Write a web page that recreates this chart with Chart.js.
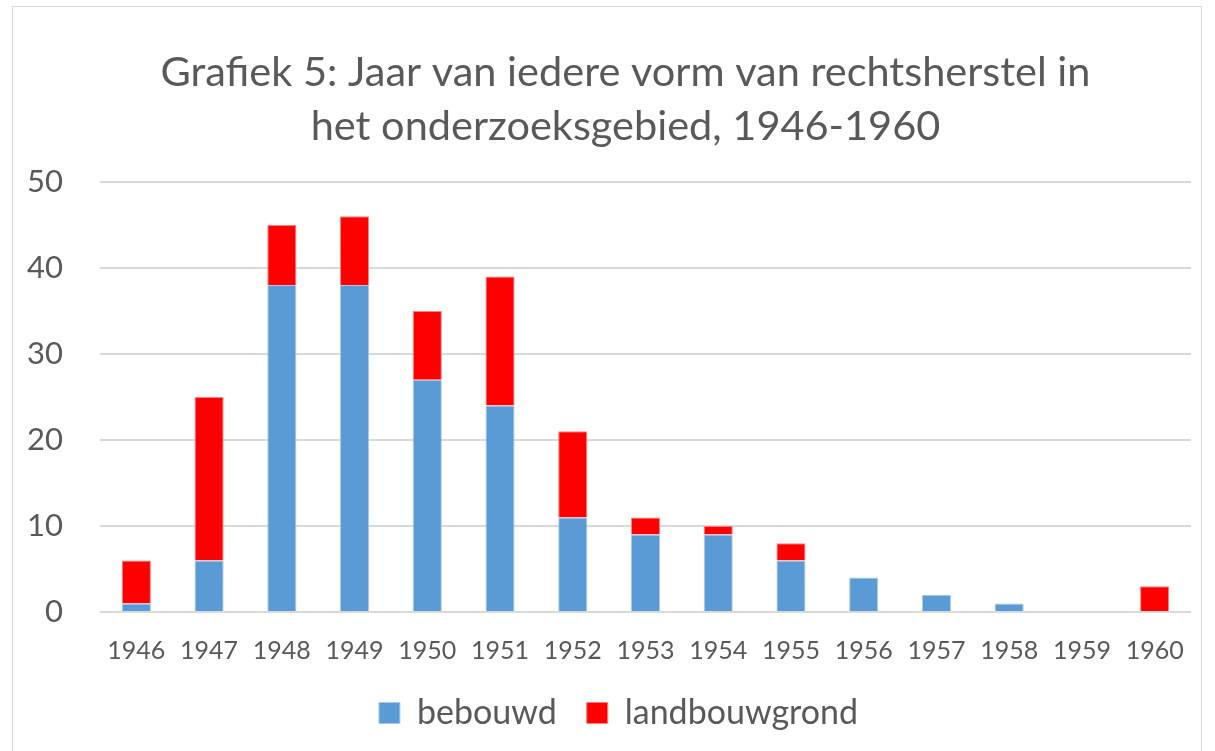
<!DOCTYPE html>
<html>
<head>
<meta charset="utf-8">
<script src="https://cdn.jsdelivr.net/npm/chart.js@4"></script>
<style>
  html, body { margin: 0; padding: 0; background: #fff; overflow: hidden; }
  #wrap { position: absolute; left: 12px; top: 6px; width: 1190px; height: 760px; border: 1px solid #d9d9d9; box-sizing: border-box; }
  #box { position: absolute; left: 0; top: 0; width: 1215px; height: 751px; }
</style>
</head>
<body>
<div id="wrap"></div>
<div id="box"><canvas id="chart" width="1215" height="751"></canvas></div>
<script>
// ── Data ───────────────────────────────────────────────
const years = ['1946', '1947', '1948', '1949', '1950', '1951', '1952', '1953', '1954', '1955', '1956', '1957', '1958', '1959', '1960'];
const bebouwd = [1, 6, 38, 38, 27, 24, 11, 9, 9, 6, 4, 2, 1, 0, 0];
const landbouwgrond = [5, 19, 7, 8, 8, 15, 10, 2, 1, 2, 0, 0, 0, 0, 3];
const yTicks = [0, 10, 20, 30, 40, 50];

const titleLines = ['Grafiek 5: Jaar van iedere vorm van rechtsherstel in', 'het onderzoeksgebied, 1946-1960'];
const FONT = 'Lato, "Open Sans", sans-serif';
const GREY = '#595959';

// nudge title / legend boxes after layout (Excel-style placement)
const nudge = {
  id: 'nudge',
  afterLayout(chart) {
    const t = chart.titleBlock;
    if (t) { t.left += 17; t.right += 17; }
    const l = chart.legend;
    if (l) { l.left += 10; l.right += 10; l.top -= 16; l.bottom -= 16; }
  },
};

// ── Chart ──────────────────────────────────────────────
new Chart(document.getElementById('chart'), {
  type: 'bar',
  data: {
    labels: years,
    datasets: [
      { label: 'bebouwd', data: bebouwd, backgroundColor: '#5b9bd5', borderColor: '#a9c9ec', borderWidth: 1, barPercentage: 1, categoryPercentage: 0.4 },
      { label: 'landbouwgrond', data: landbouwgrond, backgroundColor: '#ff0000', borderColor: '#ff8080', borderWidth: 1, barPercentage: 1, categoryPercentage: 0.4 },
    ],
  },
  plugins: [nudge],
  options: {
    responsive: false,
    animation: false,
    devicePixelRatio: 1,
    layout: { padding: { left: 26, right: 24, top: 46, bottom: -5 } },
    plugins: {
      title: {
        display: true,
        text: titleLines,
        color: GREY,
        font: { family: FONT, size: 41.5, weight: 'normal', lineHeight: 1.3 },
        padding: { top: 0, bottom: 28 },
      },
      legend: {
        position: 'bottom',
        labels: {
          color: GREY,
          font: { family: FONT, size: 34 },
          boxWidth: 21,
          boxHeight: 21,
          padding: 30,
          useBorderRadius: false,
        },
      },
      tooltip: { enabled: false },
    },
    scales: {
      x: {
        stacked: true,
        grid: { display: false },
        border: { display: false },
        ticks: { color: GREY, font: { family: FONT, size: 25 }, padding: 16, maxRotation: 0 },
      },
      y: {
        stacked: true,
        min: 0,
        max: 50,
        afterBuildTicks: axis => { axis.ticks = yTicks.map(v => ({ value: v })); },
        afterFit: axis => { axis.width = 74; },
        grid: { color: '#d9d9d9', lineWidth: 2, drawTicks: false },
        border: { display: false },
        ticks: { color: GREY, font: { family: FONT, size: 31 }, padding: 37 },
      },
    },
  },
});
</script>
</body>
</html>
